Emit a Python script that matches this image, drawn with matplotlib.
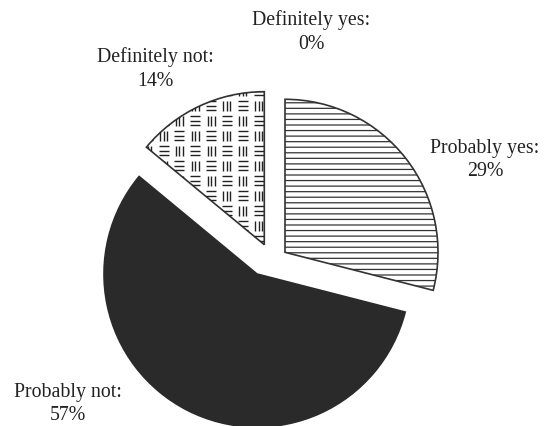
import matplotlib.pyplot as plt
import numpy as np
from matplotlib.collections import LineCollection

# data
labels = ['Definitely yes', 'Probably yes', 'Probably not', 'Definitely not']
values = [0, 29, 57, 14]
# label text centres (pixels, image coords)
label_pos = [(311, 32), (485, 160), (68, 404), (155, 69)]
# per-slice shift away from the pie centre (pixels, image coords)
slice_shift = {'Probably yes': (28, -21.7), 'Probably not': (0, 0),
               'Definitely not': (7.3, -29.3)}

W, H = 545, 427
plt.rcParams['font.family'] = ['Liberation Serif', 'DejaVu Serif']
plt.rcParams['hatch.linewidth'] = 0.9

fig = plt.figure(figsize=(W / 100, H / 100), dpi=100)
ax = fig.add_axes([0, 0, 1, 1])

edge = '#333333'
dark = '#2a2a2a'

# skip zero slices in the pie, keep their label
shown = [(l, v) for l, v in zip(labels, values) if v > 0]
center = (257, H - 275)
radius = 153
wedges, _ = ax.pie([v for _, v in shown], startangle=90, counterclock=False,
                   radius=radius, center=center,
                   wedgeprops=dict(edgecolor=edge, linewidth=1.2))
for w, (lab, _) in zip(wedges, shown):
    dx, dy = slice_shift[lab]
    w.set_center((center[0] + dx, center[1] - dy))
    if lab == 'Probably yes':
        w.set_facecolor('white')
        w.set_hatch('---')
    elif lab == 'Probably not':
        w.set_facecolor(dark)
        w.set_edgecolor(dark)
    else:
        w.set_facecolor('white')

# basket-weave texture for "Definitely not"
w = wedges[[l for l, _ in shown].index('Definitely not')]
segs = []
rowh, per = 15, 31.7
for r in range(-2, 32):
    y0 = r * rowh
    for c in range(-2, 40):
        x0 = c * per / 2
        if (r + c) % 2 == 0:
            for k in range(3):
                yy = y0 + 1 + k * 4.3
                segs.append([(x0, yy), (x0 + 10, yy)])
        else:
            for k in range(3):
                xx = x0 + 1.5 + k * 3.5
                segs.append([(xx, y0 + 0.5), (xx, y0 + 10)])
lc = LineCollection(segs, colors='#222222', linewidths=1.0)
ax.add_collection(lc)
lc.set_clip_path(w)

# labels
for lab, v, (px, py) in zip(labels, values, label_pos):
    ax.text(px, H - py, f'{lab}:\n{v}%', ha='center', va='center',
            multialignment='center', fontsize=14.3, color='#222222',
            linespacing=1.3)

ax.set_xlim(0, W)
ax.set_ylim(0, H)
ax.set_aspect('auto')
ax.axis('off')
fig.savefig('out.png', dpi=100)
